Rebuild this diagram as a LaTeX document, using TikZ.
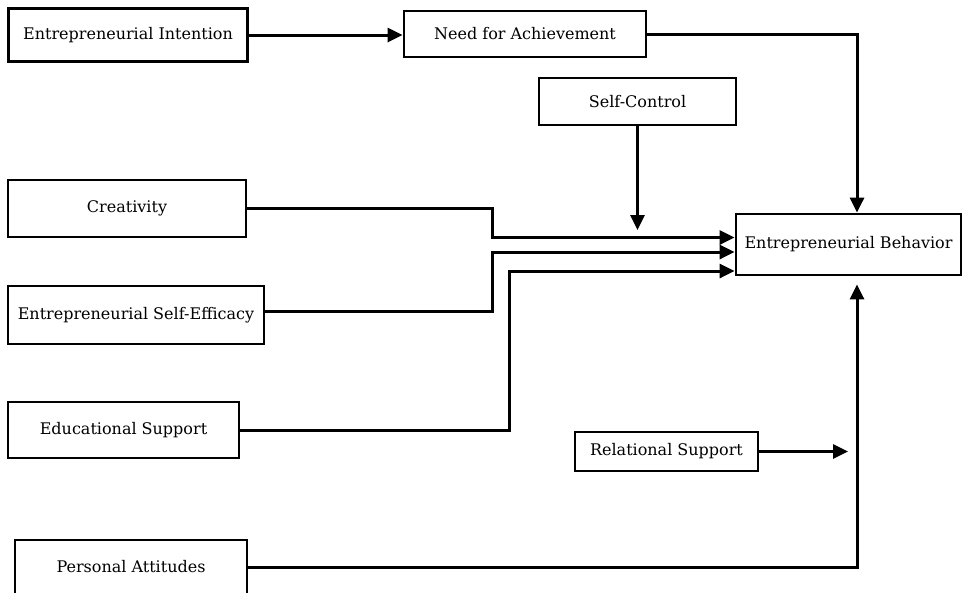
\documentclass[tikz,border=0pt]{standalone}
\usepackage{fontspec}
\setmainfont{DejaVu Serif}
\usetikzlibrary{arrows.meta}
\begin{document}
\begin{tikzpicture}[x=1pt,y=-1pt,
  box/.style={draw, line width=2.8pt, inner sep=0pt, align=center, font=\fontsize{16}{19}\selectfont},
  conn/.style={line width=3pt},
  arr/.style={conn, -{Triangle[length=15pt,width=14pt]}}]
\useasboundingbox (0,0) rectangle (963,592);
\fill[white] (0,0) rectangle (963,592);
% boxes
\node[box, minimum width=239pt, minimum height=53pt] (ei)  at (128,35)    {Entrepreneurial Intention};
\node[box, minimum width=242pt, minimum height=46pt] (nfa) at (525,34)    {Need for Achievement};
\node[box, minimum width=197pt, minimum height=47pt] (sc)  at (637.5,101.5) {Self-Control};
\node[box, minimum width=238pt, minimum height=57pt] (cre) at (127,208.5) {Creativity};
\node[box, minimum width=225pt, minimum height=61pt] (eb)  at (848.5,244.5) {Entrepreneurial Behavior};
\node[box, minimum width=256pt, minimum height=58pt] (ese) at (136,315)   {Entrepreneurial Self-Efficacy};
\node[box, minimum width=231pt, minimum height=56pt] (edu) at (123.5,430) {Educational Support};
\node[box, minimum width=183pt, minimum height=39pt] (rs)  at (666.5,451.5) {Relational Support};
\node[box, minimum width=232pt, minimum height=54pt] (pa)  at (131,567)   {Personal Attitudes};
% helper coordinates
\coordinate (j1) at (492,0);
\coordinate (j2) at (509,0);
\coordinate (scend) at (637.5,230);
\coordinate (rsend) at (848,451.5);
% connectors
\draw[arr] (ei.east) -- (ei.east -| nfa.west);
\draw[arr] (nfa.east) -| ([xshift=8.5pt]eb.north);
\draw[arr] (sc.south) -- (scend);
\draw[arr] (cre.east) -- (cre.east -| j1) |- ([yshift=7pt]eb.west);
\draw[arr] ([yshift=4pt]ese.east) -- ([yshift=4pt]ese.east -| j1) |- ([yshift=-7.5pt]eb.west);
\draw[arr] (edu.east) -- (edu.east -| j2) |- ([yshift=-26.5pt]eb.west);
\draw[arr] (rs.east) -- (rsend);
\draw[arr] (pa.east) -| ([xshift=8.5pt,yshift=-8pt]eb.south);
\end{tikzpicture}
\end{document}
